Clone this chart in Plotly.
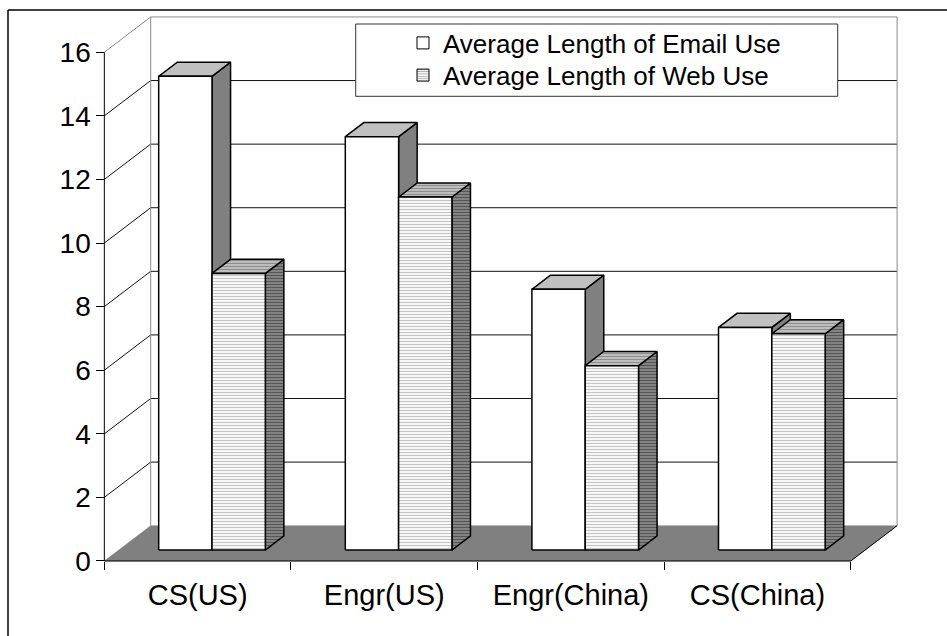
import plotly.graph_objects as go

# ---- data -------------------------------------------------------------
categories = ["CS(US)", "Engr(US)", "Engr(China)", "CS(China)"]
email_use = [14.9, 13.0, 8.2, 7.0]
web_use = [8.7, 11.1, 5.8, 6.8]
series_names = ["Average Length of Email Use", "Average Length of Web Use"]
y_ticks = [0, 2, 4, 6, 8, 10, 12, 14, 16]

# ---- 3-D box geometry (axis units) -----------------------------------
DEPTH_DX = 0.2485     # horizontal shift from front plane to back wall
DEPTH_DY = 1.11       # vertical shift from front plane to back wall
BAR_W = 0.2857        # width of one bar (gap width 150 %)
BAR_Z0 = 0.31         # depth fraction where bar fronts stand
BAR_DZ = 0.40         # depth fraction occupied by a bar

X_RANGE = [-0.55, 3.78]
Y_RANGE = [-0.315, 17.14]
M_L, M_R, M_T, M_B = 95, 44, 16, 65
W, H = 947, 636
PW, PH = W - M_L - M_R, H - M_T - M_B

FONT = "Arial, Liberation Sans, sans-serif"

x_lo, x_hi = -0.5, len(categories) - 0.5
bx_lo, bx_hi = x_lo + DEPTH_DX, x_hi + DEPTH_DX
y_top = y_ticks[-1]


def poly(xs, ys, fill=None, line_color="black", width=1.0, pattern=None):
    kw = dict(
        x=list(xs) + [xs[0]], y=list(ys) + [ys[0]], mode="lines",
        line=dict(color=line_color, width=width),
        hoverinfo="skip", showlegend=False,
    )
    if fill is not None:
        kw.update(fill="toself", fillcolor=fill)
    if pattern is not None:
        kw.update(fillpattern=pattern)
    return go.Scatter(**kw)


def segments(segs, color, width=1.0):
    xs, ys = [], []
    for (xa, ya), (xb, yb) in segs:
        xs += [xa, xb, None]
        ys += [ya, yb, None]
    return go.Scatter(x=xs, y=ys, mode="lines", line=dict(color=color, width=width),
                      hoverinfo="skip", showlegend=False)


fig = go.Figure()

# back-wall gridlines and left-wall diagonals
grid = []
for v in y_ticks[1:-1]:
    grid.append(((bx_lo, v + DEPTH_DY), (bx_hi, v + DEPTH_DY)))
    grid.append(((x_lo, v), (bx_lo, v + DEPTH_DY)))
fig.add_trace(segments(grid, "#111111", 1))

# wall outlines
walls = [
    ((x_lo, y_top), (bx_lo, y_top + DEPTH_DY)),
    ((bx_lo, y_top + DEPTH_DY), (bx_hi, y_top + DEPTH_DY)),
    ((bx_lo, y_top + DEPTH_DY), (bx_lo, DEPTH_DY)),
    ((bx_hi, y_top + DEPTH_DY), (bx_hi, DEPTH_DY)),
]
fig.add_trace(segments(walls, "#8a8a8a", 1))

# floor
fig.add_trace(poly([x_lo, x_hi, bx_hi, bx_lo], [0, 0, DEPTH_DY, DEPTH_DY],
                   fill="#808080", line_color="#808080", width=0.5))
fig.add_trace(segments([((x_lo, 0), (x_hi, 0)), ((x_hi, 0), (bx_hi, DEPTH_DY)),
                        ((x_lo, 0), (x_lo, y_top))], "black", 1))

# bars
dx0, dy0 = BAR_Z0 * DEPTH_DX, BAR_Z0 * DEPTH_DY
ddx, ddy = BAR_DZ * DEPTH_DX, BAR_DZ * DEPTH_DY


def stripes(bg, fg):
    return dict(shape="-", bgcolor=bg, fgcolor=fg, size=3, solidity=0.42, fillmode="replace")


styles = [
    dict(front=("white", None), top=("#c0c0c0", None), side=("#808080", None)),
    dict(front=("white", stripes("white", "#c4c4c4")),
         top=("#c0c0c0", stripes("#c4c4c4", "#8e8e8e")),
         side=("#808080", stripes("#8a8a8a", "#555555"))),
]

for i in range(len(categories)):
    for s, vals in enumerate([email_use, web_use]):
        v = vals[i]
        xl = i - BAR_W + s * BAR_W + dx0
        xr = xl + BAR_W
        st = styles[s]
        # side face
        fig.add_trace(poly([xr, xr + ddx, xr + ddx, xr],
                           [dy0, dy0 + ddy, v + dy0 + ddy, v + dy0],
                           fill=st["side"][0], pattern=st["side"][1], width=1.5))
        # top face
        fig.add_trace(poly([xl, xr, xr + ddx, xl + ddx],
                           [v + dy0, v + dy0, v + dy0 + ddy, v + dy0 + ddy],
                           fill=st["top"][0], pattern=st["top"][1], width=1.5))
        # front face
        fig.add_trace(poly([xl, xr, xr, xl], [dy0, dy0, v + dy0, v + dy0],
                           fill=st["front"][0], pattern=st["front"][1], width=1.5))

# legend entries (one legend per row so the rows sit at the right spacing)
fig.add_trace(go.Bar(x=[None], y=[None], name=series_names[0], legend="legend",
                     marker=dict(color="white", line=dict(color="black", width=1))))
fig.add_trace(go.Bar(x=[None], y=[None], name=series_names[1], legend="legend2",
                     marker=dict(color="white", line=dict(color="black", width=1),
                                 pattern=stripes("white", "#b0b0b0"))))


def px_x(p):
    return (p - M_L) / PW


def px_y(p):
    return (H - M_B - p) / PH


def legend_row(top_px):
    return dict(
        xref="container", yref="container",
        x=403 / W, y=1 - top_px / H, xanchor="left", yanchor="top",
        bgcolor="rgba(0,0,0,0)", borderwidth=0,
        font=dict(size=26, family=FONT, color="black"),
    )


fig.update_layout(
    width=W, height=H,
    margin=dict(l=M_L, r=M_R, t=M_T, b=M_B, autoexpand=False),
    paper_bgcolor="white", plot_bgcolor="white",
    font=dict(family=FONT, color="black"),
    showlegend=True,
    legend=legend_row(19.5),
    legend2=legend_row(51.7),
    xaxis=dict(
        range=X_RANGE, anchor="free", position=0.315 / (Y_RANGE[1] - Y_RANGE[0]),
        tickmode="array", tickvals=list(range(len(categories))), ticktext=categories,
        ticks="", showgrid=False, zeroline=False, showline=False,
        ticklabelstandoff=14,
        tickfont=dict(size=29, family=FONT, color="black"),
        minor=dict(tickmode="array",
                   tickvals=[k - 0.5 for k in range(len(categories) + 1)],
                   ticks="outside", ticklen=8, tickcolor="black", tickwidth=1),
    ),
    yaxis=dict(
        range=Y_RANGE, anchor="free", position=0.05 / (X_RANGE[1] - X_RANGE[0]),
        tickmode="array", tickvals=y_ticks,
        ticks="outside", ticklen=8, tickcolor="black", tickwidth=1,
        showgrid=False, zeroline=False, showline=False,
        tickfont=dict(size=28, family=FONT, color="black"),
    ),
    shapes=[
        # legend frame
        dict(type="rect", xref="paper", yref="paper",
             x0=px_x(355.7), x1=px_x(837.7), y0=px_y(96.3), y1=px_y(24),
             fillcolor="white", line=dict(color="#333333", width=1), layer="above"),
        # chart frame
        dict(type="line", xref="paper", yref="paper",
             x0=px_x(8), x1=px_x(W + 5), y0=px_y(10), y1=px_y(10),
             line=dict(color="black", width=1.5)),
        dict(type="line", xref="paper", yref="paper",
             x0=px_x(8), x1=px_x(8), y0=px_y(10), y1=px_y(H + 5),
             line=dict(color="black", width=1.5)),
    ],
)

fig.write_html("out.html")
